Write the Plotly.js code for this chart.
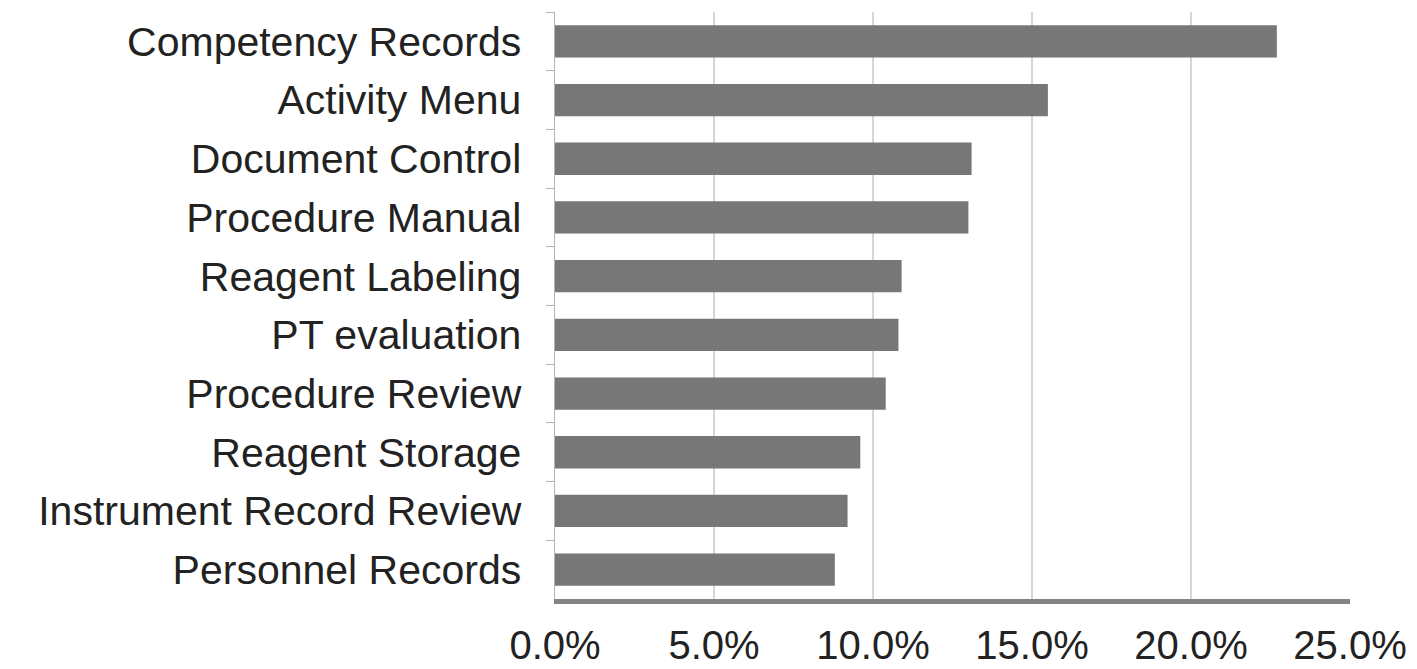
<!DOCTYPE html>
<html>
<head>
<meta charset="utf-8">
<script src="https://cdn.plot.ly/plotly-3.0.1.min.js"></script>
<style>html,body{margin:0;padding:0;background:#fff;}#chart{width:1417px;height:669px;}</style>
</head>
<body>
<div id="chart"></div>
<script>
const categories = [
  "Competency Records",
  "Activity Menu",
  "Document Control",
  "Procedure Manual",
  "Reagent Labeling",
  "PT evaluation",
  "Procedure Review",
  "Reagent Storage",
  "Instrument Record Review",
  "Personnel Records"
];
const values = [0.227, 0.155, 0.131, 0.130, 0.109, 0.108, 0.104, 0.096, 0.092, 0.088];
const tickValues = [0, 0.05, 0.10, 0.15, 0.20, 0.25];
const tickLabels = ["0.0%", "5.0%", "10.0%", "15.0%", "20.0%", "25.0%"];

const trace = {
  type: "bar",
  orientation: "h",
  x: values,
  y: categories,
  marker: {color: "#777777"},
  hoverinfo: "x+y"
};

const layout = {
  width: 1417,
  height: 669,
  margin: {l: 555, r: 67, t: 12, b: 70, pad: 0},
  paper_bgcolor: "#ffffff",
  plot_bgcolor: "#ffffff",
  bargap: 0.45,
  showlegend: false,
  font: {family: "Liberation Sans, Arial, sans-serif", size: 41, color: "#222222"},
  xaxis: {
    range: [0, 0.25],
    tickvals: tickValues,
    ticktext: tickLabels,
    showgrid: true,
    gridcolor: "#d6d6d6",
    gridwidth: 2,
    zeroline: false,
    showline: true,
    linecolor: "#848484",
    linewidth: 5,
    ticks: "",
    ticklabelstandoff: 7,
    tickfont: {size: 40, color: "#222222"}
  },
  yaxis: {
    type: "category",
    categoryorder: "array",
    categoryarray: categories,
    autorange: "reversed",
    showgrid: false,
    zeroline: false,
    showline: true,
    linecolor: "#b4b4b4",
    linewidth: 1.5,
    ticks: "outside",
    tickson: "boundaries",
    ticklen: 8,
    tickcolor: "#b4b4b4",
    ticklabelstandoff: 24,
    tickfont: {size: 41, color: "#222222"}
  }
};

Plotly.newPlot("chart", [trace], layout, {displayModeBar: false, staticPlot: true});
</script>
</body>
</html>
